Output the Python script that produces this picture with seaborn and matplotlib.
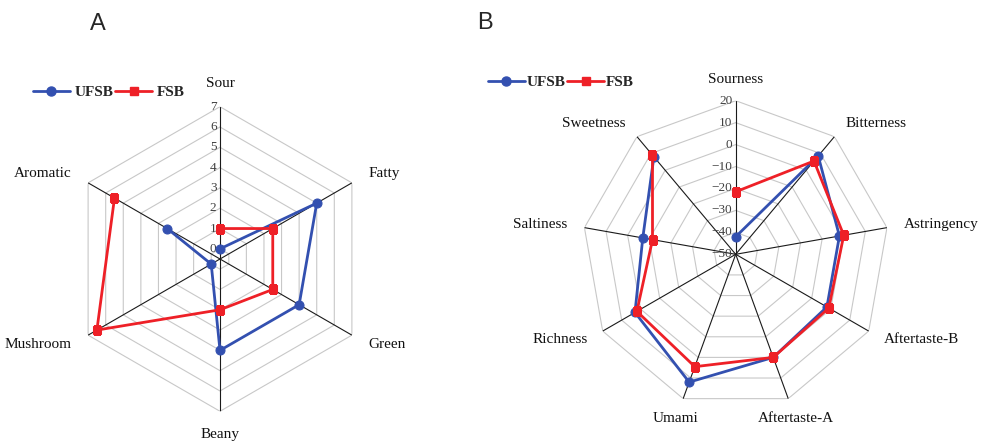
import numpy as np
import pandas as pd
import matplotlib
matplotlib.use("Agg")
import matplotlib.pyplot as plt
import matplotlib.transforms as mtransforms
from matplotlib.lines import Line2D
import seaborn as sns

sns.set_style("white")
plt.rcParams["font.family"] = ["Liberation Serif", "DejaVu Serif"]

# ---- data ----
cats_a = ["Sour", "Fatty", "Green", "Beany", "Mushroom", "Aromatic"]
ufsb_a = [0, 5, 4, 4, 0, 2.5]
fsb_a = [1, 2.5, 2.5, 2, 6.5, 5.5]
ticks_a = [0, 1, 2, 3, 4, 5, 6, 7]
rmin_a = -0.5

cats_b = ["Sourness", "Bitterness", "Astringency", "Aftertaste-B", "Aftertaste-A",
          "Umami", "Richness", "Saltiness", "Sweetness"]
ufsb_b = [-42, 8.5, -2, -2, 0, 12, 3, -7, 8]
fsb_b = [-21.5, 5.5, 0, -1, 0, 4.5, 2, -11.5, 9]
ticks_b = [-50, -40, -30, -20, -10, 0, 10, 20]
rmin_b = -50

series_names = ["UFSB", "FSB"]
BLUE = "#3350B0"
RED = "#EE2027"

fig = plt.figure(figsize=(9.81, 4.45), dpi=100)


def radar(rect, cats, ufsb, fsb, ticks, rmin, label_px):
    ax = fig.add_axes(rect, projection="polar")
    ax.set_theta_zero_location("N")
    ax.set_theta_direction(-1)
    n = len(cats)
    theta = np.linspace(0, 2 * np.pi, n, endpoint=False)
    rmax = ticks[-1]
    ax.set_ylim(rmin, rmax)
    ax.grid(False)
    ax.spines["polar"].set_visible(False)
    ax.set_xticks([])
    ax.set_yticks([])
    ax.set_facecolor("none")
    th_closed = np.append(theta, theta[0])
    # polygon rings
    for v in ticks:
        ax.plot(th_closed, np.full(n + 1, v), color="#c8c8c8", lw=0.8, zorder=1)
    # spokes
    for t in theta:
        ax.plot([t, t], [rmin, rmax], color="#1a1a1a", lw=0.8, zorder=2)
    # data
    handles = []
    for vals, color, mk, name in [(ufsb, BLUE, "o", series_names[0]),
                                  (fsb, RED, "s", series_names[1])]:
        df = pd.DataFrame({"theta": th_closed, "value": np.append(vals, vals[0])})
        sns.lineplot(data=df, x="theta", y="value", sort=False, ax=ax, color=color,
                     lw=2.0, marker=mk, markersize=6.5 if mk == "o" else 6,
                     markeredgecolor=color, zorder=4, legend=False)
        handles.append(Line2D([], [], color=color, lw=2.0, marker=mk,
                              markersize=6.5 if mk == "o" else 6, label=name))
    ax.set_xlabel("")
    ax.set_ylabel("")
    ax.set_ylim(rmin, rmax)
    # tick labels along top axis
    off = mtransforms.offset_copy(ax.transData, fig=fig, x=-2.5, y=0, units="points")
    for v in ticks:
        ax.text(0, v, f"{v:g}".replace("-", "\u2212"), transform=off, ha="right",
                va="center", fontsize=9.5, color="#404040", zorder=3)
    # category labels
    scale = (rmax - rmin) / 153.0
    r_lab = rmin + label_px * scale
    for t, c in zip(theta, cats):
        s = np.sin(t)
        if abs(s) < 0.5:
            ha = "center"
            rr = rmin + (label_px + 4) * scale
        elif s > 0:
            ha = "left"
            rr = r_lab
        else:
            ha = "right"
            rr = r_lab
        ax.text(t, rr, c, ha=ha, va="center", fontsize=11, color="#111111",
                clip_on=False)
    return ax, handles


axA, hA = radar([67.7 / 981, 1 - 411.3 / 445, 304.6 / 981, 304.6 / 445],
                cats_a, ufsb_a, fsb_a, ticks_a, rmin_a, 172)
axB, hB = radar([582.1 / 981, 1 - 407.9 / 445, 307.2 / 981, 307.2 / 445],
                cats_b, ufsb_b, fsb_b, ticks_b, rmin_b, 170)

legkw = dict(ncol=2, frameon=False, borderpad=0, borderaxespad=0, loc="center left",
             handlelength=2.4, handletextpad=0.3, columnspacing=0.15,
             prop={"family": "Liberation Serif", "weight": "bold", "size": 11})
fig.legend(handles=hA, bbox_to_anchor=(33 / 981, 1 - 92 / 445), **legkw)
legkw2 = dict(legkw)
legkw2["handletextpad"] = 0.1
fig.legend(handles=hB, bbox_to_anchor=(488 / 981, 1 - 82 / 445), **legkw2)

fig.text(97.5 / 981, 1 - 24 / 445, "A", fontsize=17, family="Liberation Sans",
         ha="center", va="center")
fig.text(485 / 981, 1 - 23 / 445, "B", fontsize=17, family="Liberation Sans",
         ha="center", va="center")

fig.savefig("out.png", dpi=100, facecolor="white")
